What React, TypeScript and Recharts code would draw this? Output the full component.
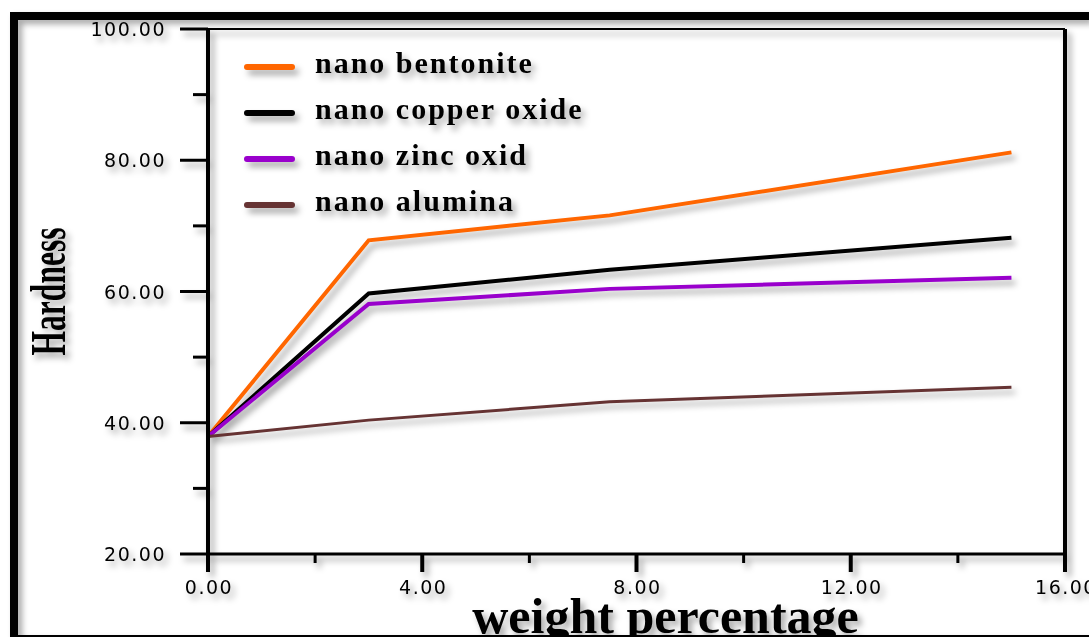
import React from 'react';
import { LineChart, Line, XAxis, YAxis, ReferenceLine, Legend, Label } from 'recharts';

const weightPercent = [0, 3, 7.5, 15];
const nanoBentonite = [37.9, 67.8, 71.6, 81.2];
const nanoCopperOxide = [37.9, 59.7, 63.3, 68.2];
const nanoZincOxid = [37.9, 58.1, 60.4, 62.1];
const nanoAlumina = [37.9, 40.4, 43.2, 45.4];

const xTicks = [0, 2, 4, 6, 8, 10, 12, 14, 16];
const yTicks = [20, 30, 40, 50, 60, 70, 80, 90, 100];

const seriesKeys = ['bentonite', 'copper', 'zinc', 'alumina'];
const seriesNames = ['nano bentonite', 'nano copper oxide', 'nano zinc oxid', 'nano alumina'];
const seriesColors = ['#FF6600', '#000000', '#9900CC', '#663333'];
const seriesWidths = [4, 4, 4, 3];
const seriesValues = [nanoBentonite, nanoCopperOxide, nanoZincOxid, nanoAlumina];

const data = weightPercent.map((w, i) => {
  const row: Record<string, number> = { w };
  seriesKeys.forEach((k, s) => {
    row[k] = seriesValues[s][i];
  });
  return row;
});

const tickFont: React.CSSProperties = {
  fontFamily: '"DejaVu Sans", Verdana, sans-serif',
  fontSize: 19,
  letterSpacing: 1.5,
  fill: '#000',
};

const XTick = (props: any) => {
  const { x, y, payload } = props;
  const v = Number(payload.value);
  const major = v % 4 === 0;
  return (
    <g>
      <line x1={x} x2={x} y1={y} y2={y + (major ? 18 : 9)} stroke="#000" strokeWidth={major ? 4 : 3} />
      {major && (
        <text x={x + 1} y={y + 33} textAnchor="middle" dominantBaseline="central" style={tickFont}>
          {v.toFixed(2)}
        </text>
      )}
    </g>
  );
};

const YTick = (props: any) => {
  const { x, y, payload } = props;
  const v = Number(payload.value);
  const major = v % 20 === 0;
  return (
    <g>
      <line x1={x - (major ? 28 : 15)} x2={x} y1={y} y2={y} stroke="#000" strokeWidth={3} />
      {major && (
        <text x={x - 42} y={y} textAnchor="end" dominantBaseline="central" style={tickFont}>
          {v.toFixed(2)}
        </text>
      )}
    </g>
  );
};

const XTitle = (props: any) => {
  const vb = props.viewBox || { x: 208, y: 554, width: 857, height: 83 };
  return (
    <text
      x={vb.x + vb.width / 2 + 29}
      y={vb.y + 79}
      textAnchor="middle"
      style={{ fontFamily: '"Liberation Serif", "Times New Roman", serif', fontWeight: 'bold', fontSize: 50, fill: '#000' }}
    >
      weight percentage
    </text>
  );
};

const YTitle = (props: any) => {
  const vb = props.viewBox || { x: 0, y: 29, width: 208, height: 525 };
  const cx = 65;
  const cy = vb.y + vb.height / 2;
  return (
    <text
      x={cx}
      y={cy}
      transform={`rotate(-90, ${cx}, ${cy})`}
      textAnchor="middle"
      textLength={128}
      lengthAdjust="spacingAndGlyphs"
      style={{ fontFamily: '"Liberation Serif", "Times New Roman", serif', fontWeight: 'bold', fontSize: 50, fill: '#000' }}
    >
      Hardness
    </text>
  );
};

const LegendContent = (props: any) => {
  const payload = [...(props.payload || [])].sort(
    (a: any, b: any) => seriesNames.indexOf(a.value) - seriesNames.indexOf(b.value)
  );
  return (
    <div>
      {payload.map((entry: any, i: number) => (
        <div key={i} style={{ display: 'flex', alignItems: 'center', height: 46 }}>
          <span
            style={{
              display: 'inline-block',
              width: 51,
              height: 6,
              borderRadius: 3,
              background: entry.color,
              marginRight: 20,
            }}
          />
          <span
            style={{
              position: 'relative',
              top: -4,
              fontFamily: '"Liberation Serif", "Times New Roman", serif',
              fontWeight: 'bold',
              fontSize: 30,
              letterSpacing: 2,
              color: '#000',
              whiteSpace: 'nowrap',
            }}
          >
            {entry.value}
          </span>
        </div>
      ))}
    </div>
  );
};

export default function App() {
  return (
    <div style={{ position: 'absolute', left: 0, top: 0, width: 1089, height: 637, overflow: 'hidden', background: '#fff' }}>
      <div
        style={{
          position: 'absolute',
          left: 10,
          top: 12,
          width: 1079,
          height: 625,
          boxSizing: 'border-box',
          borderTop: '8px solid #000',
          borderLeft: '8px solid #000',
          borderBottom: '2px solid #000',
          filter: 'drop-shadow(4px 4px 3px rgba(0,0,0,0.35))',
        }}
      />
      <div style={{ position: 'absolute', left: 0, top: 0, filter: 'drop-shadow(4px 5px 3px rgba(0,0,0,0.35))' }}>
        <LineChart width={1089} height={637} data={data} margin={{ top: 29, right: 24, bottom: 0, left: 0 }}>
          <XAxis
            dataKey="w"
            type="number"
            domain={[0, 16]}
            ticks={xTicks}
            interval={0}
            height={83}
            tickSize={0}
            tickMargin={0}
            tickLine={false}
            tick={<XTick />}
            axisLine={{ stroke: '#000', strokeWidth: 3 }}
          >
            <Label content={<XTitle />} />
          </XAxis>
          <YAxis
            type="number"
            domain={[20, 100]}
            ticks={yTicks}
            interval={0}
            width={208}
            tickSize={0}
            tickMargin={0}
            tickLine={false}
            tick={<YTick />}
            axisLine={{ stroke: '#000', strokeWidth: 4 }}
          >
            <Label content={<YTitle />} />
          </YAxis>
          <ReferenceLine y={100} stroke="#000" strokeWidth={2} />
          <ReferenceLine x={16} stroke="#000" strokeWidth={4} />
          <Legend
            layout="vertical"
            align="center"
            verticalAlign="middle"
            content={<LegendContent />}
            wrapperStyle={{ left: 244, top: 44, width: 'auto' }}
          />
          {seriesKeys.map((k, i) => (
            <Line
              key={k}
              dataKey={k}
              name={seriesNames[i]}
              stroke={seriesColors[i]}
              strokeWidth={seriesWidths[i]}
              dot={false}
              activeDot={false}
              isAnimationActive={false}
            />
          ))}
        </LineChart>
      </div>
    </div>
  );
}
